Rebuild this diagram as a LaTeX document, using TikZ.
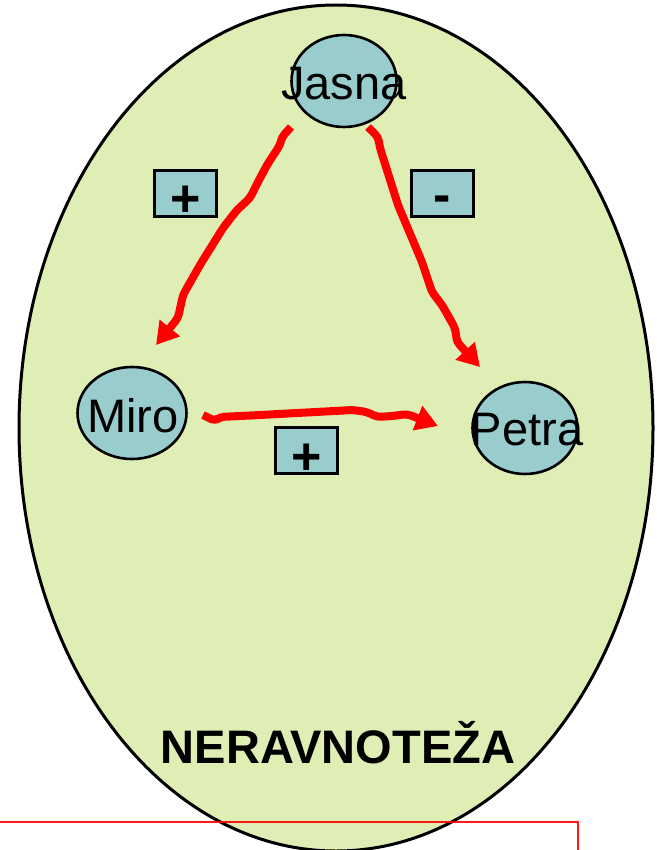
\documentclass[tikz,border=0pt]{standalone}
\usepackage{fontspec}
\setmainfont{Liberation Sans}
\usetikzlibrary{shapes.geometric,arrows.meta}
\definecolor{bg}{RGB}{223,238,180}
\definecolor{tealfill}{RGB}{153,204,204}
\begin{document}
\begin{tikzpicture}[x=1pt,y=-1pt,
 person/.style={ellipse,draw=black,line width=2.6pt,fill=tealfill,inner sep=0pt},
 pname/.style={font=\fontsize{47}{49}\selectfont,inner sep=0pt,anchor=base},
 signbox/.style={rectangle,draw=black,line width=3pt,fill=tealfill,minimum width=62pt,minimum height=46pt,inner sep=0pt},
 sign/.style={font=\bfseries\fontsize{52}{54}\selectfont,inner sep=0pt,anchor=base},
 rel/.style={draw=red,line width=8pt,rounded corners=4pt,line join=round,-{Triangle[length=22pt,width=25pt]}}]
\useasboundingbox (0,0) rectangle (656,850);
% world
\node[ellipse,draw=black,fill=bg,line width=3pt,minimum width=634pt,minimum height=846pt,inner sep=0pt] (world) at (336,428) {};
% note box (cut off)
\node[rectangle,draw=red,draw opacity=0.9,line width=2.8pt,minimum width=583pt,minimum height=78pt,inner sep=0pt] (note) at (286.5,861) {};
% persons
\node[person,minimum width=105pt,minimum height=92pt] (J) at (344,81) {};
\node[pname] (Jt) at (344,100) {Jasna};
\node[person,minimum width=109pt,minimum height=92pt] (M) at (132,413) {};
\node[pname] (Mt) at (133,432) {Miro};
\node[person,minimum width=105pt,minimum height=92pt] (P) at (525,428) {};
\node[pname] (Pt) at (527,445) {Petra};
% signs
\node[signbox] (s1) at (185.5,194) {};
\node[sign] (s1t) at (186,216) {+};
\node[signbox] (s2) at (442.5,194) {};
\node[sign] (s2t) at (442,212) {-};
\node[signbox] (s3) at (306,450.5) {};
\node[sign] (s3t) at (307,474) {+};
% arrow endpoints
\coordinate (a1s) at (291,127);
\coordinate (a1e) at (156,345);
\coordinate (a2s) at (368,127);
\coordinate (a2e) at (480,367);
\coordinate (a3s) at (203,415);
\coordinate (a3e) at (438,426);
\draw[rel] (a1s) -- (282,137) -- (280,145) -- (267,165) -- (258,182) -- (250,198) -- (237,210) -- (223,228) -- (200,265) -- (183,295) -- (178,318) -- (a1e);
\draw[rel] (a2s) -- (378,137) -- (380,148) -- (398,205) -- (422,262) -- (432,292) -- (442,305) -- (455,328) -- (457,342) -- (a2e);
\draw[rel] (a3s) -- (215,421) -- (220,417) -- (260,415) -- (353,410) -- (367,412) -- (377,417) -- (393,416) -- (407,414) -- (a3e);
% title
\node[font=\bfseries\fontsize{47}{49}\selectfont,inner sep=0pt,anchor=base] (title) at (338,763) {NERAVNOTEŽA};
\end{tikzpicture}
\end{document}
